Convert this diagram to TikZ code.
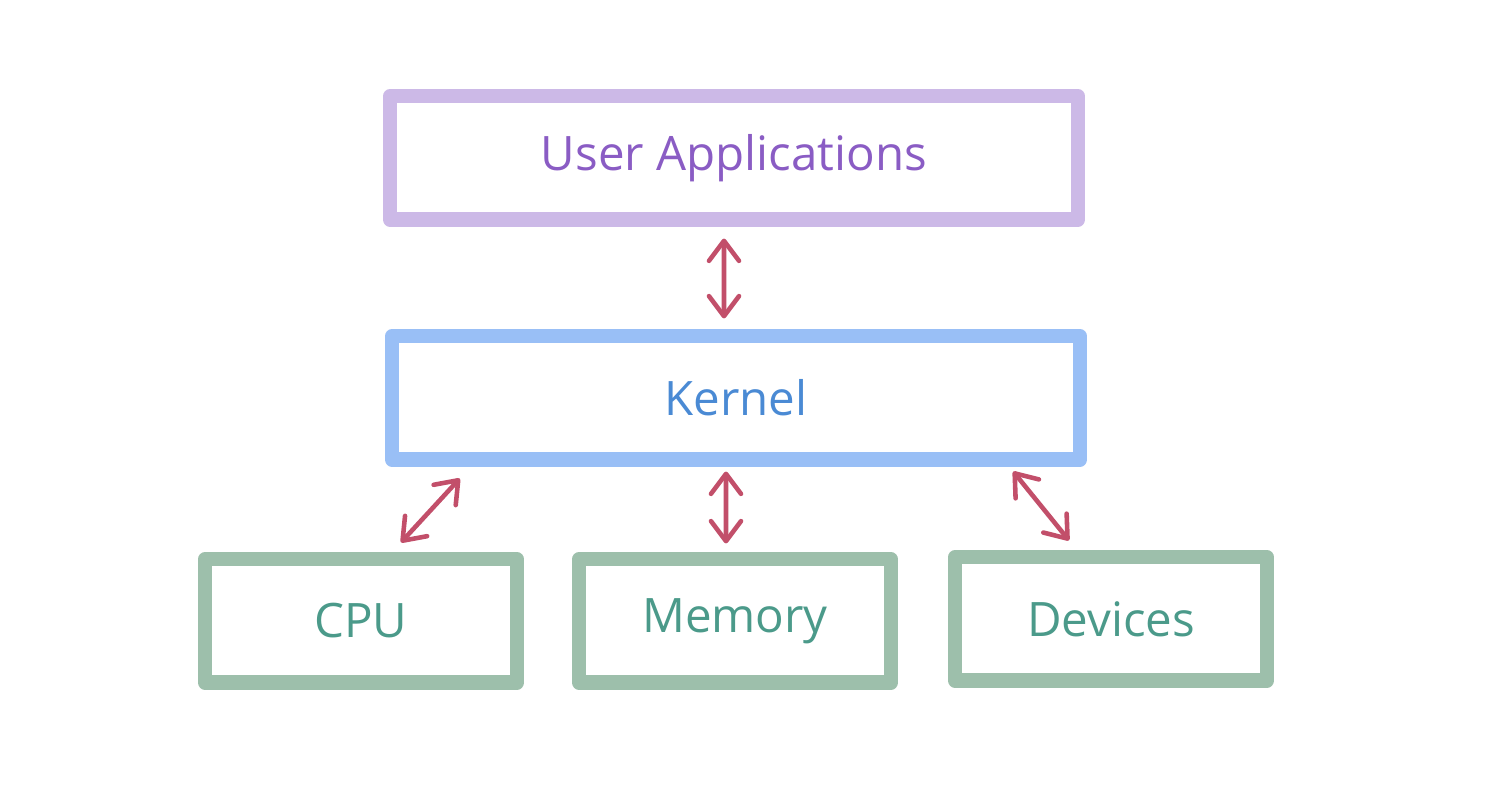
\documentclass[tikz,border=0pt]{standalone}
\usepackage{fontspec}
\setmainfont{Open Sans}
\usetikzlibrary{arrows.meta, positioning}

\definecolor{ualine}{HTML}{CCB9E7}
\definecolor{uatext}{HTML}{8A5CC4}
\definecolor{kline}{HTML}{99BFF6}
\definecolor{ktext}{HTML}{4A8AD4}
\definecolor{hwline}{HTML}{9DBFAB}
\definecolor{hwtext}{HTML}{4B9A8A}
\definecolor{arrowred}{HTML}{C24F6A}

\begin{document}
\begin{tikzpicture}[x=0.01cm, y=-0.01cm]
% 定义节点样式
\tikzstyle{block} = [rectangle, draw, line width=4pt, line join=round, minimum height=1.23cm, font=\fontsize{13.5}{16}\selectfont]
\tikzstyle{wide} = [block, minimum width=6.88cm]
\tikzstyle{small} = [block, minimum width=3.12cm, draw=hwline, text=hwtext]
\tikzstyle{line} = [draw=arrowred, line width=1.3pt, line cap=round, {Straight Barb[round, length=2mm, width=3mm]}-{Straight Barb[round, length=2mm, width=3mm]}]

\useasboundingbox (0,0) rectangle (1490,795);

% 绘制方框
\node [wide, draw=ualine, text=uatext] (ua) at (734,158) {User Applications};
\node [wide, draw=kline, text=ktext] (kernel) at (736,398) {Kernel};
\node [small] (cpu) at (361,621) {CPU};
\node [small] (memory) at (735,621) {Memory};
\node [small] (devices) at (1111,619) {Devices};

% 连接节点
\path [line] ([xshift=-0.1cm, yshift=-0.12cm]ua.south) -- ([xshift=-0.12cm, yshift=0.11cm]kernel.north);
\path [line] ([shift={(75,12)}]kernel.south west) -- ([shift={(40,-10)}]cpu.north);
\path [line] ([xshift=-0.1cm, yshift=-0.05cm]kernel.south) -- ([xshift=-0.09cm, yshift=0.09cm]memory.north);
\path [line] ([shift={(-74,5)}]kernel.south east) -- ([shift={(-42,-10)}]devices.north);
\end{tikzpicture}
\end{document}
